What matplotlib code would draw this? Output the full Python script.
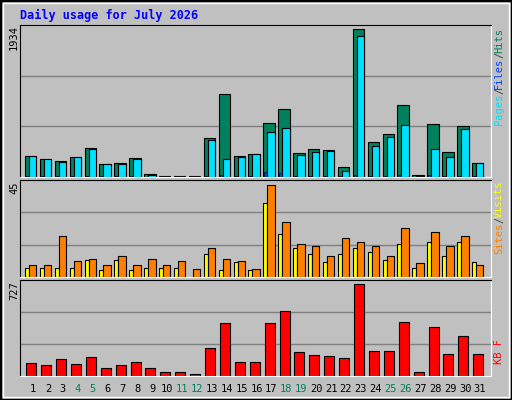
import matplotlib
matplotlib.use("Agg")
import matplotlib.pyplot as plt
from matplotlib.patches import Rectangle
import numpy as np

days = list(range(1, 32))
weekend = [4, 5, 11, 12, 18, 19, 25, 26]
hits = [280, 241, 214, 267, 385, 175, 188, 254, 44, 15, 15, 15, 516, 1081, 280, 306,
        700, 884, 319, 372, 359, 136, 1934, 451, 556, 936, 30, 687, 333, 661, 188]
files = [280, 241, 201, 267, 372, 175, 175, 241, 30, 0, 0, 0, 477, 241, 267, 306,
         582, 634, 293, 333, 346, 83, 1842, 411, 529, 674, 10, 372, 267, 621, 188]
pages = [10, 10, 10, 10, 10, 10, 10, 10, 5, 0, 0, 0, 10, 20, 10, 10,
         70, 48, 10, 10, 10, 10, 20, 10, 10, 20, 5, 20, 10, 10, 10]
visits = [6, 6, 20, 8, 9, 6, 10, 6, 9, 6, 8, 4, 14, 9, 8, 4,
          45, 27, 16, 15, 10, 19, 17, 15, 10, 24, 7, 22, 15, 20, 6]
sites = [4.5, 4.5, 4.5, 4.5, 8.4, 3.6, 8.4, 3.6, 4.5, 4.5, 4.5, 0, 11.4, 3.6, 7.5, 3.6,
         36, 21, 14.3, 11.4, 7.5, 11.4, 14.3, 12.3, 8.4, 16.2, 4.5, 17.2, 10.4, 17.2, 7.5]
kbytes = [106, 90, 138, 98, 154, 66, 90, 114, 66, 34, 34, 19, 226, 417, 114, 114,
          417, 512, 194, 170, 162, 146, 727, 202, 202, 432, 34, 385, 178, 321, 178]

BG = "#C0C0C0"
mono = "DejaVu Sans Mono"
fig = plt.figure(figsize=(5.12, 4.0), dpi=100, facecolor=BG)
fig.patches.append(Rectangle((0, 0), 1, 1, transform=fig.transFigure, fill=False,
                             edgecolor="black", linewidth=2.5))
fig.patches.append(Rectangle((3/512, 3/400), 506/512, 394/400, transform=fig.transFigure,
                             fill=False, edgecolor="white", linewidth=1))
fig.text(20/512, 1 - 15/400, "Daily usage for July 2026", color="#0000FF",
         fontsize=8.5, fontweight="bold", family=mono, va="center")

d = np.array(days)
xl = (0.13, 31.74)

def mkax(top, bot):
    ax = fig.add_axes([20/512, 1 - bot/400, 471/512, (bot - top)/400])
    ax.set_facecolor(BG)
    ax.set_xlim(*xl)
    ax.set_xticks([]); ax.set_yticks([])
    for s in ["top", "left"]:
        ax.spines[s].set_color("black")
    for s in ["bottom", "right"]:
        ax.spines[s].set_color("white")
    return ax

def grid(ax, ymax):
    ax.set_ylim(0, ymax)
    for f in (1/3, 2/3):
        ax.axhline(ymax * f, color="#808080", lw=1, zorder=0)

def rlabel(parts, y):
    for t, c in parts:
        fig.text(499/512, 1 - y/400, t, rotation=90, color=c, fontsize=7.5,
                 family=mono, va="top", ha="center")
        y += len(t) * 6.0

kw = dict(edgecolor="black", linewidth=0.8, align="edge", zorder=2)

a1 = mkax(25, 177)
grid(a1, 1986)
a1.bar(d - 0.54, hits, 0.77, color="#00805C", **kw)
a1.bar(d - 0.27, files, 0.5, color="#00E0FF", **kw)
a1.bar(d - 0.47, pages, 0.17, color="#0040FF", edgecolor="black", linewidth=0.5, align="edge", zorder=3)
fig.text(14/512, 1 - 25/400, "1934", rotation=90, fontsize=7.5, family=mono, va="top", ha="center")
rlabel([("Hits", "#00805C"), ("/", "#404040"), ("Files", "#0040FF"), ("/", "#404040"), ("Pages", "#00E0FF")], 28)

a2 = mkax(180, 277)
grid(a2, 47.3)
a2.bar(d - 0.54, sites, 0.27, color="#FFFF00", **kw)
a2.bar(d - 0.27, visits, 0.5, color="#FF8000", **kw)
fig.text(14/512, 1 - 181/400, "45", rotation=90, fontsize=7.5, family=mono, va="top", ha="center")
rlabel([("Visits", "#FFFF00"), ("/", "#404040"), ("Sites", "#FF8000")], 181)

a3 = mkax(280, 376)
grid(a3, 762)
a3.bar(d - 0.45, kbytes, 0.67, color="#FF0000", **kw)
fig.text(14/512, 1 - 281/400, "727", rotation=90, fontsize=7.5, family=mono, va="top", ha="center")
fig.text(499/512, 1 - 352/400, "KB F", rotation=90, color="#FF0000", fontsize=7.5, family=mono, va="center", ha="center")

for day in days:
    px = 33 + (day - 1) * 14.9
    fig.text(px/512, 1 - 389/400, str(day), ha="center", va="center", fontsize=7.5,
             family=mono, color="#00805C" if day in weekend else "black")

fig.savefig("out.png", dpi=100, facecolor=BG)
